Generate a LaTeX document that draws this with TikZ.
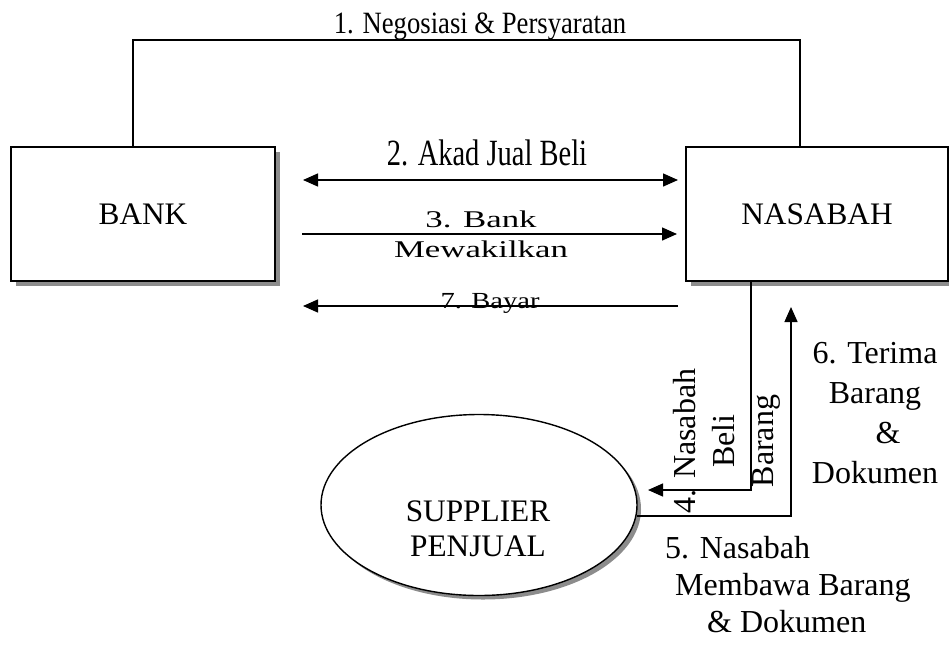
\documentclass[tikz,border=0pt]{standalone}
\usepackage{fontspec}
\setmainfont{Liberation Serif}
\usepackage{graphicx}
\usetikzlibrary{arrows.meta,shapes.geometric,shadows}
\newcommand{\fs}[2]{\fontsize{#1}{#2}\selectfont}
\begin{document}
\begin{tikzpicture}[x=1pt,y=-1pt,
  boxnode/.style={draw, line width=1.8pt, fill=white, minimum width=264pt, minimum height=134pt,
    inner sep=0pt, font=\fs{31.3}{36},
    drop shadow={shadow xshift=5pt, shadow yshift=-5pt, fill=black!45, opacity=1}},
  ovalnode/.style={ellipse, draw, line width=1.4pt, fill=white, minimum width=316pt, minimum height=181pt,
    inner sep=0pt, drop shadow={shadow xshift=4pt, shadow yshift=-4pt, fill=black!45, opacity=1}},
  conn/.style={line width=1.4pt},
  arr/.style={conn, -{Triangle[length=15pt,width=13pt]}},
  darr/.style={conn, {Triangle[length=15pt,width=13pt]}-{Triangle[length=15pt,width=13pt]}},
  lbl/.style={inner sep=0pt, anchor=base}
]
\fill[white] (0,0) rectangle (949,646);
\useasboundingbox (0,0) rectangle (949,646);

\node[boxnode] (bank) at (143,214) {BANK};
\node[boxnode, minimum width=262pt] (nas) at (817,214) {NASABAH};
\node[ovalnode] (sup) at (479,505) {};
\node[lbl, font=\fs{31.3}{35}] (suptext) at (478,521)
  {\begin{tabular}[t]{@{}c@{}}SUPPLIER\\PENJUAL\end{tabular}};

% coordinates for free arrow ends
\coordinate (topR) at (800,40);
\coordinate (a2l) at (303,180);
\coordinate (a2r) at (678,180);
\coordinate (a3l) at (302,234);
\coordinate (a3r) at (677,234);
\coordinate (a7l) at (303,306);
\coordinate (a7r) at (678,306);
\coordinate (tip4) at (648,490);
\coordinate (tip5) at (791,307);

% 1. top connector
\draw[conn] ([xshift=-10pt]bank.north) |- (topR) -- ([xshift=-17pt]nas.north);
\node[lbl, font=\fs{31}{36}] (l1) at (480,33) {\scalebox{0.86}[1]{1. Negosiasi \& Persyaratan}};

% 2
\draw[darr] (a2l) -- (a2r);
\node[lbl, font=\fs{37}{40}] (l2) at (487,165) {\scalebox{0.77}[1]{2. Akad Jual Beli}};

% 3
\draw[arr] (a3l) -- (a3r);
\node[lbl, font=\fs{24}{30}] (l3) at (481,227)
  {\scalebox{1.45}[1]{\begin{tabular}[t]{@{}c@{}}3. Bank\\Mewakilkan\end{tabular}}};

% 7
\draw[arr] (a7r) -- (a7l);
\node[lbl, font=\fs{23}{28}] (l7) at (490,308) {\scalebox{1.24}[1]{7. Bayar}};

% 4
\draw[arr] ([xshift=-66pt]nas.south) |- (tip4);
\node[lbl, rotate=90, font=\fs{32}{39}] (l4) at (695,441)
  {\begin{tabular}[t]{@{}c@{}}4. Nasabah\\Beli\\Barang\end{tabular}};

% 5 / 6
\draw[arr] (sup.-4) -| (tip5);
\node[lbl, font=\fs{32}{40}] (l6) at (875,363)
  {\begin{tabular}[t]{@{}c@{}}6. Terima\\Barang\\\hspace*{26pt}\&\\Dokumen\end{tabular}};
\node[lbl, anchor=base west, font=\fs{32}{37}] (l5) at (665,558)
  {\begin{tabular}[t]{@{}l@{}}5. Nasabah\\\hspace*{10pt}Membawa Barang\\\hspace*{42pt}\& Dokumen\end{tabular}};
\end{tikzpicture}
\end{document}
